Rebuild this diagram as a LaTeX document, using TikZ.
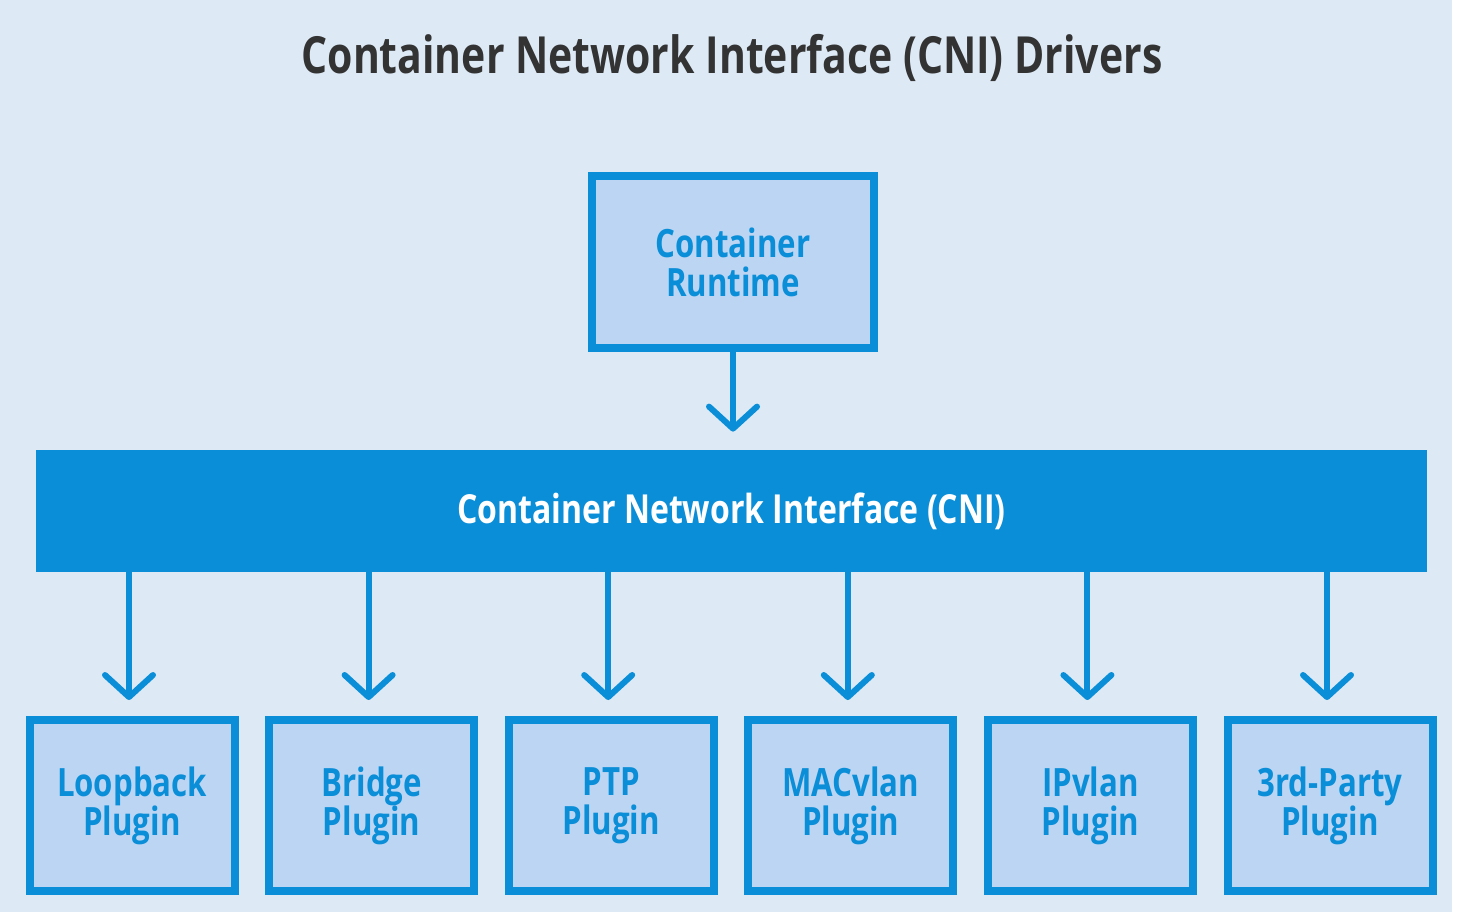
\documentclass[tikz,border=0pt]{standalone}
\usepackage{fontspec}
\newfontfamily\cnifont{Open Sans}[FakeStretch=0.8]
\usetikzlibrary{arrows.meta,positioning}

\definecolor{bgblue}{HTML}{DDEAF6}
\definecolor{boxfill}{HTML}{BCD5F3}
\definecolor{cniblue}{HTML}{0A8ED8}
\definecolor{titlegray}{HTML}{333333}

\begin{document}
\begin{tikzpicture}[
        x=0.5pt, y=-0.5pt,
        basic/.style   = {draw=cniblue, line width=4pt, fill=boxfill, text=cniblue, align=center, font=\cnifont\bfseries\fontsize{19.5}{19.5}\selectfont},
        runtime/.style = {basic, minimum width=141pt, minimum height=86pt},
        plugin/.style  = {basic, minimum width=102.5pt, minimum height=85.5pt},
        bar/.style     = {fill=cniblue, text=white, minimum width=695.5pt, minimum height=61pt, font=\cnifont\bfseries\fontsize{20}{22}\selectfont},
        title/.style   = {text=titlegray, font=\cnifont\bfseries\fontsize{25.6}{28}\selectfont},
        link/.style    = {draw=cniblue, line width=3pt, line cap=round, -{Straight Barb[length=11pt, width=24pt, round]}},
        >=latex]
        
        % canvas
        \useasboundingbox (0,0) rectangle (1459,912);
        \fill[bgblue] (0,0) rectangle (1452,912);
        
        % heading
        \node[title] (title) at (732,58) {Container Network Interface (CNI) Drivers};
        
        % runtime and interface layer
        \node[runtime] (runtime) at (733,262) {Container\\Runtime};
        \node[bar] (cni) at (731.5,511) {Container Network Interface (CNI)};
        
        \draw[link, shorten >=9pt] (runtime.south) -- (runtime.south |- cni.north);
        
        % the plugins, one next to the other
        \foreach \name [count=\i from 0] in {Loopback, Bridge, PTP, MACvlan, IPvlan, 3rd-Party}
        \node[plugin] (p\i) at ({132+239.6*\i},805.5) {\name\\Plugin};
        
        % lines from the interface down to every plugin
        \foreach \value in {0,...,5}
        \draw[link, shorten >=8pt] ([xshift=-1.5pt]p\value.north |- cni.south) -- ([xshift=-1.5pt]p\value.north);
        
    \end{tikzpicture}
\end{document}
